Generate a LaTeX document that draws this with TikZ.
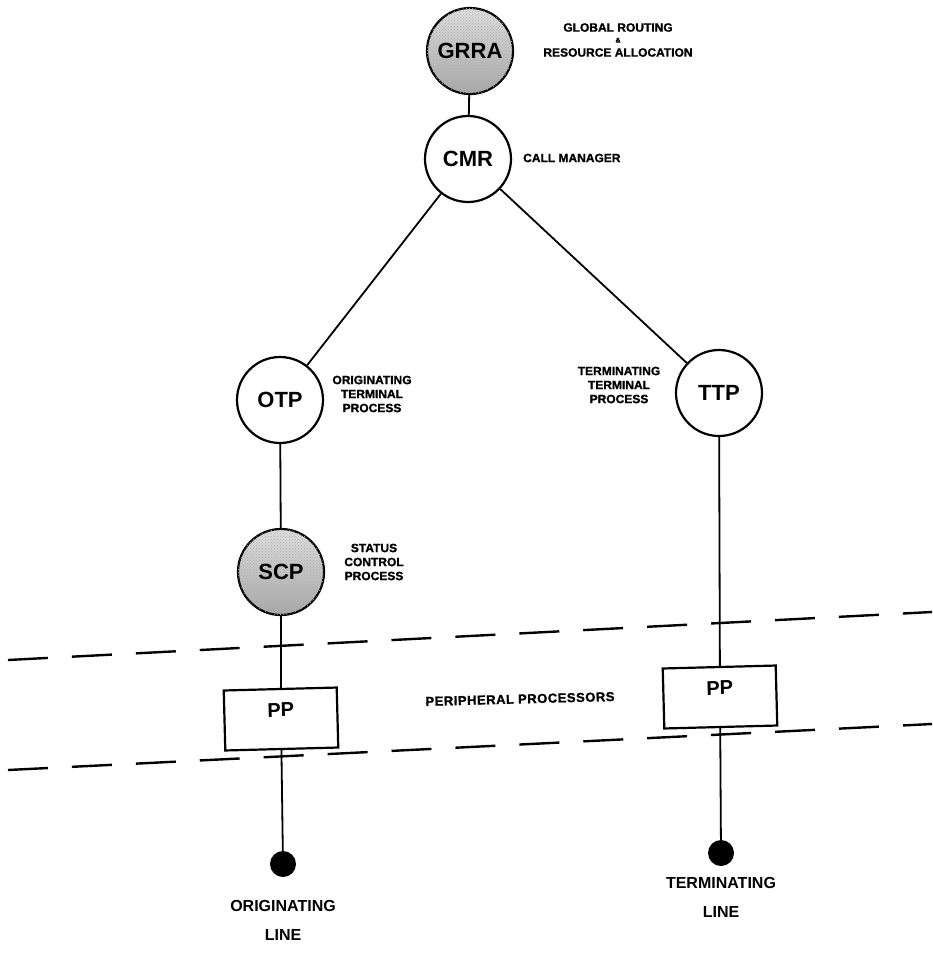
\documentclass[tikz,border=0pt]{standalone}
\usepackage{fontspec}
\setmainfont{Liberation Sans}
\usetikzlibrary{patterns}
\tikzset{
  proc-node/.style={draw=black, circle, line width=2.2pt, minimum size=86pt, inner sep=0pt,
    font=\bfseries\fontsize{22}{24}\selectfont},
  proc-shaded/.style={proc-node, top color=gray!25, bottom color=gray!70,
    postaction={pattern=crosshatch dots, pattern color=black!30}},
  pp-box/.style={draw=black, line width=2.2pt, minimum width=113pt, minimum height=60pt,
    inner sep=0pt, text depth=18pt, font=\bfseries\fontsize{20}{22}\selectfont},
  line-end/.style={circle, fill=black, minimum size=26pt, inner sep=0pt},
  proc-note/.style={align=center, inner sep=1pt,
    font=\bfseries\fontsize{12}{14}\selectfont\addfontfeatures{FakeBold=1.2}},
  end-note/.style={align=center, inner sep=1pt, font=\bfseries\fontsize{16}{29}\selectfont},
  link/.style={line width=1.8pt},
  zone-line/.style={line width=2.4pt, dash pattern=on 40pt off 24pt}
}

\begin{document}
\begin{tikzpicture}[x=1pt, y=-1pt]
  \useasboundingbox (0,0) rectangle (932,964);

  % process circles
  \node[proc-shaded] (grra) at (470,51) {GRRA};
  \node[proc-node] (cmr) at (468,159) {CMR};
  \node[proc-node] (otp) at (280,400) {OTP};
  \node[proc-node] (ttp) at (719,393) {TTP};
  \node[proc-shaded] (scp) at (281,572) {SCP};

  % peripheral processors
  \node[pp-box, rotate=1.5] (pp-orig) at (281,719) {PP};
  \node[pp-box, rotate=1.5] (pp-term) at (720,697) {PP};

  % line terminations
  \node[line-end] (orig-line) at (283,864) {};
  \node[line-end] (term-line) at (721,853) {};

  % annotations
  \node[proc-note] (grra-note) at (618,40) {GLOBAL ROUTING\\[-3pt]{\fontsize{7}{8}\selectfont\&}\\RESOURCE ALLOCATION};
  \node[proc-note, anchor=west] (cmr-note) at (522,158) {CALL MANAGER};
  \node[proc-note] (otp-note) at (372,394) {ORIGINATING\\TERMINAL\\PROCESS};
  \node[proc-note] (ttp-note) at (619,385) {TERMINATING\\TERMINAL\\PROCESS};
  \node[proc-note] (scp-note) at (374,562) {STATUS\\CONTROL\\PROCESS};
  \node[proc-note, rotate=1.5, font=\bfseries\fontsize{13}{15}\selectfont\addfontfeatures{LetterSpace=4,FakeBold=1.2}]
    (pp-note) at (520,699) {PERIPHERAL PROCESSORS};
  \node[end-note, anchor=north, yshift=-22pt] at (orig-line.south) {ORIGINATING\\LINE};
  \node[end-note, anchor=north, yshift=-10pt] at (term-line.south) {TERMINATING\\LINE};

  % tree
  \draw[link] (grra) -- (cmr);
  \draw[link] (cmr) -- (otp);
  \draw[link] (cmr) -- (ttp);
  \draw[link] (otp) -- (scp);
  \draw[link] (scp) -- (pp-orig);
  \draw[link] (pp-orig) -- (orig-line);
  \draw[link] (ttp) -- (pp-term);
  \draw[link] (pp-term) -- (term-line);

  % zone boundaries
  \coordinate (upper-west) at (8,660);
  \coordinate (upper-east) at (932,612);
  \coordinate (lower-west) at (8,770);
  \coordinate (lower-east) at (932,724);
  \draw[zone-line] (upper-west) -- (upper-east);
  \draw[zone-line] (lower-west) -- (lower-east);
\end{tikzpicture}
\end{document}
